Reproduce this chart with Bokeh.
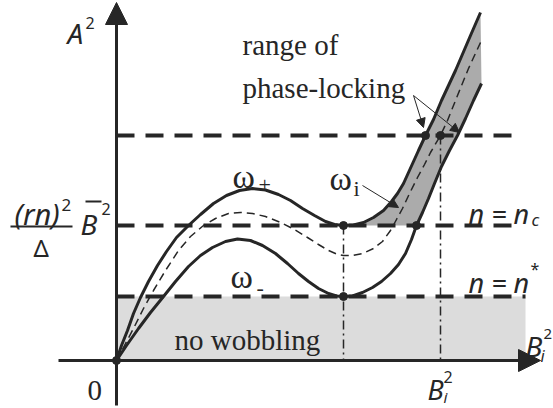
from bokeh.plotting import figure
from bokeh.models import Range1d, Arrow, NormalHead, Label
from bokeh.embed import file_html
from bokeh.resources import INLINE

# ---------------- data (schematic units: B_i^2 along x, A^2 along y) ----------------
# omega_+ (upper solid curve)
up_x = [0, 0.05, 0.11, 0.17, 0.24, 0.32, 0.41, 0.50, 0.60, 0.72, 0.84, 0.97, 1.10, 1.23, 1.36,
        1.49, 1.62, 1.74, 1.86, 1.98, 2.09, 2.18, 2.27, 2.37, 2.47, 2.57, 2.67, 2.75, 2.81, 2.87,
        2.92, 2.97, 3.02, 3.09, 3.17, 3.25, 3.39, 3.54, 3.64]
up_y = [0, 0.15, 0.30, 0.47, 0.63, 0.79, 0.95, 1.09, 1.23, 1.35, 1.46, 1.57, 1.65, 1.70, 1.72,
        1.705, 1.66, 1.60, 1.52, 1.45, 1.39, 1.36, 1.35, 1.355, 1.38, 1.43, 1.50, 1.59, 1.67, 1.77,
        1.88, 1.99, 2.10, 2.25, 2.41, 2.60, 2.90, 3.25, 3.48]
# omega_- (lower solid curve)
lo_x = [0, 0.10, 0.22, 0.34, 0.47, 0.59, 0.72, 0.84, 0.96, 1.09, 1.21, 1.34, 1.46, 1.59, 1.71,
        1.82, 1.92, 2.02, 2.12, 2.20, 2.27, 2.36, 2.46, 2.56, 2.65, 2.74, 2.82, 2.89, 2.95, 3.00,
        3.06, 3.12, 3.18, 3.25, 3.33, 3.41, 3.49, 3.57, 3.65]
lo_y = [0, 0.15, 0.32, 0.48, 0.64, 0.79, 0.94, 1.05, 1.13, 1.19, 1.215, 1.20, 1.15, 1.07, 0.97,
        0.87, 0.79, 0.72, 0.67, 0.645, 0.64, 0.645, 0.68, 0.73, 0.79, 0.87, 0.96, 1.07, 1.21, 1.35,
        1.48, 1.62, 1.77, 1.94, 2.10, 2.25, 2.42, 2.60, 2.77]
# omega_i (thin dashed middle curve)
mid_x = [0, 0.08, 0.17, 0.27, 0.37, 0.49, 0.62, 0.74, 0.87, 0.99, 1.12, 1.24, 1.36, 1.49, 1.64,
         1.78, 1.91, 2.02, 2.12, 2.20, 2.27, 2.36, 2.46, 2.57, 2.66, 2.74, 2.80, 2.86, 2.93, 3.01,
         3.08, 3.14, 3.24, 3.31, 3.41, 3.52, 3.64]
mid_y = [0, 0.15, 0.32, 0.52, 0.70, 0.90, 1.10, 1.24, 1.35, 1.42, 1.47, 1.48, 1.47, 1.44, 1.38,
         1.31, 1.23, 1.16, 1.10, 1.065, 1.05, 1.05, 1.07, 1.12, 1.19, 1.30, 1.41, 1.52, 1.67, 1.83,
         1.96, 2.08, 2.25, 2.40, 2.65, 2.92, 3.18]

# horizontal levels: top, n = n_c, n = n*
lev_y = [2.25, 1.35, 0.64]
lev_xend = [4.06, 4.03, 4.09]
# characteristic points
x_min = 2.27        # position of the minima
x_bi = 3.24         # B_i^2
x_lo_nc = 3.00      # lower curve meets n = n_c
x_up_top = 3.09     # upper curve meets top level
nowob_right = 4.09
dot_x = [0, x_min, x_min, x_lo_nc, x_up_top, x_bi]
dot_y = [0, lev_y[1], lev_y[2], lev_y[1], lev_y[0], lev_y[0]]

C = "#262626"
LIGHT = "#dcdcdc"
DARK = "#ababab"

p = figure(width=553, height=408, output_backend="svg", toolbar_location=None,
           x_range=Range1d(-1.16, 4.37), y_range=Range1d(-0.48, 3.60),
           x_axis_location=None, y_axis_location=None, min_border=0)
p.grid.visible = False
p.outline_line_color = None
p.background_fill_color = "white"
p.border_fill_color = "white"

# no-wobbling region
p.quad(left=[0], right=[nowob_right], bottom=[0], top=[lev_y[2]], fill_color=LIGHT, line_color=None)

# phase-locking band
ux = [x for x in up_x if x >= x_min]
uy = [y for x, y in zip(up_x, up_y) if x >= x_min]
lx = [x for x in lo_x if x >= x_lo_nc][::-1]
ly = [y for x, y in zip(lo_x, lo_y) if x >= x_lo_nc][::-1]
p.patch(ux + lx, uy + ly, fill_color=DARK, line_color=None)

# horizontal dashed levels
p.segment(x0=[0] * 3, y0=lev_y, x1=lev_xend, y1=lev_y, line_color=C, line_width=4, line_dash="18 11")

# vertical dash-dot lines
p.segment(x0=[x_min, x_bi], y0=[lev_y[1], lev_y[0]], x1=[x_min, x_bi], y1=[0, 0],
          line_color=C, line_width=1.5, line_dash="9 4 2 4")

# curves
p.line(mid_x, mid_y, line_color=C, line_width=1.5, line_dash="8 5")
p.line(up_x, up_y, line_color=C, line_width=3)
p.line(lo_x, lo_y, line_color=C, line_width=3)

# dots
p.scatter(dot_x, dot_y, size=8, color=C)

# axes with arrows
p.add_layout(Arrow(end=NormalHead(size=22, fill_color=C, line_color=C), x_start=0, y_start=-0.45,
                   x_end=0, y_end=3.58, line_color=C, line_width=3))
p.add_layout(Arrow(end=NormalHead(size=22, fill_color=C, line_color=C), x_start=-0.58, y_start=0,
                   x_end=4.24, y_end=0, line_color=C, line_width=3))

# annotation arrows
ann = [((2.97, 2.65), (3.07, 2.33)), ((2.97, 2.65), (3.43, 2.28)), ((2.46, 1.75), (2.82, 1.53))]
for (xs, ys), (xe, ye) in ann:
    p.add_layout(Arrow(end=NormalHead(size=9, fill_color=C, line_color=C), x_start=xs, y_start=ys,
                       x_end=xe, y_end=ye, line_color=C, line_width=1))

# fraction bar and overbar in the left label
p.segment(x0=[-1.06, -0.31], y0=[1.34, 1.59], x1=[-0.44, -0.15], y1=[1.34, 1.59],
          line_color=C, line_width=2)

SERIF = "Liberation Serif"
SANS = "Noto Sans"
labels = [
    # text, x, y, font, size, style, baseline
    ("range of", 1.26, 3.16, SERIF, 29, "normal", "alphabetic"),
    ("phase-locking", 1.26, 2.73, SERIF, 29, "normal", "alphabetic"),
    ("no wobbling", 0.58, 0.21, SERIF, 29, "normal", "alphabetic"),
    ("0", -0.29, -0.30, SERIF, 29, "normal", "alphabetic"),
    ("ω", 1.16, 1.84, SERIF, 34, "normal", "alphabetic"),
    ("+", 1.42, 1.76, SERIF, 22, "normal", "alphabetic"),
    ("ω", 1.14, 0.84, SERIF, 34, "normal", "alphabetic"),
    ("-", 1.40, 0.73, SERIF, 22, "normal", "alphabetic"),
    ("ω", 2.13, 1.82, SERIF, 34, "normal", "alphabetic"),
    ("i", 2.37, 1.72, SERIF, 22, "normal", "alphabetic"),
    ("A", -0.49, 3.28, SANS, 28, "italic", "alphabetic"),
    ("2", -0.31, 3.38, SANS, 16, "normal", "alphabetic"),
    ("n = n", 3.52, 1.47, SANS, 27, "italic", "alphabetic"),
    ("c", 4.15, 1.41, SANS, 17, "italic", "alphabetic"),
    ("n = n", 3.52, 0.78, SANS, 27, "italic", "alphabetic"),
    ("*", 4.14, 1.03, SANS, 16, "normal", "top"),
    ("B", 4.09, 0.15, SANS, 28, "italic", "alphabetic"),
    ("2", 4.27, 0.27, SANS, 15, "normal", "alphabetic"),
    ("i", 4.24, 0.05, SANS, 16, "italic", "alphabetic"),
    ("B", 3.11, -0.29, SANS, 27, "italic", "alphabetic"),
    ("2", 3.27, -0.16, SANS, 16, "normal", "alphabetic"),
    ("i", 3.27, -0.36, SANS, 15, "italic", "alphabetic"),
    ("(rn)", -1.02, 1.47, SANS, 29, "italic", "alphabetic"),
    ("2", -0.55, 1.56, SANS, 17, "normal", "alphabetic"),
    ("Δ", -0.83, 1.13, SANS, 24, "normal", "alphabetic"),
    ("B", -0.36, 1.37, SANS, 28, "italic", "alphabetic"),
    ("2", -0.15, 1.52, SANS, 16, "normal", "alphabetic"),
]
for t, x, y, f, s, st, bl in labels:
    p.add_layout(Label(x=x, y=y, text=t, text_font=f, text_font_size=f"{s}px", text_font_style=st,
                       text_baseline=bl, text_align="left", text_color=C))

open("out.html", "w").write(file_html(p, INLINE))
